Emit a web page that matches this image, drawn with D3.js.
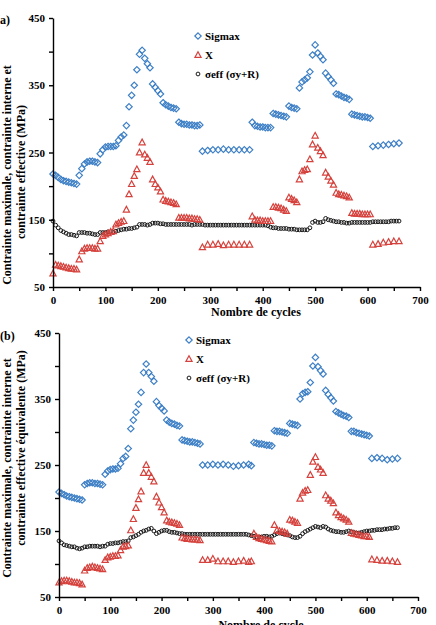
<!DOCTYPE html>
<html lang="fr">
<head>
<meta charset="UTF-8">
<title>Contraintes vs cycles</title>
<script src="https://d3js.org/d3.v7.min.js"></script>
<style>
  body { margin: 0; background: #fff; }
  svg { display: block; font-family: "Liberation Serif", "Times New Roman", serif; font-weight: bold; }
  .axis path, .axis line { stroke: #000; stroke-width: 1.4; }
  .axis text { font-size: 11px; font-weight: bold; fill: #000; font-family: "Liberation Serif", serif; }
  .title { font-size: 12px; font-weight: bold; fill: #000; }
  .legend text { font-size: 11px; font-weight: bold; fill: #000; }
</style>
</head>
<body>
<svg width="436" height="625"></svg>
<script>
// cycle grid: one reading every 5 cycles (null = no reading at that cycle)
const cycles = d3.range(0, 661, 5);
const yTickLabels = [50, 150, 250, 350, 450];
const xTickLabels = [0, 100, 200, 300, 400, 500, 600, 700];

// panel (a)
const sigmaxA = [
  218,216,213,210,208,207,206,205,204,203,
  216,226,233,236,237,237,236,235,248,254,
  258,259,259,259,260,268,273,276,290,318,
  335,350,373,396,402,390,382,376,352,347,
  342,337,324,321,319,317,316,315,295,293,
  292,292,291,291,290,290,291,252,null,253,
  null,254,null,254,null,255,null,254,null,254,
  null,254,null,254,null,254,295,290,289,288,
  288,287,287,287,308,307,306,305,304,303,
  319,317,316,315,346,355,358,361,370,395,
  410,398,393,388,368,363,358,353,337,336,
  334,332,331,329,307,306,305,304,303,303,
  302,301,259,null,260,null,261,null,262,null,
  263,null,264
];
const xA = [
  70,83,82,81,80,79,78,77,77,76,
  91,103,107,108,108,108,107,107,118,126,
  128,130,132,133,143,145,147,148,165,188,
  203,215,225,250,265,247,242,236,210,203,
  198,192,180,178,177,176,175,173,153,153,
  153,153,152,152,151,151,150,109,null,113,
  null,113,null,114,null,112,null,113,null,113,
  null,113,null,113,null,113,155,150,149,149,
  148,148,148,148,169,169,168,167,165,163,
  183,181,179,176,210,222,224,225,240,262,
  275,257,252,246,220,214,208,202,190,188,
  187,186,185,183,160,159,159,159,158,158,
  158,158,113,null,114,null,116,null,117,null,
  118,null,118
];
const seffA = [
  148,142,138,134,132,130,128,128,127,126,
  131,131,131,130,130,129,128,128,131,131,
  131,132,132,131,133,134,135,136,136,137,
  137,138,139,143,143,143,142,143,145,145,
  145,144,144,143,143,143,143,143,143,143,
  143,143,143,142,143,143,143,143,142,142,
  142,142,142,142,142,142,142,142,142,142,
  142,142,142,142,142,142,142,142,142,142,
  142,142,141,139,138,138,137,137,137,137,
  136,136,136,135,135,135,135,135,138,146,
  148,146,146,147,152,150,149,148,147,147,
  146,146,145,145,146,146,146,146,146,146,
  146,146,147,147,147,147,147,147,147,148,
  148,148,148
];

// panel (b)
const sigmaxB = [
  209,207,205,203,202,201,200,199,198,197,
  220,222,223,223,222,222,221,220,236,241,
  243,244,244,245,252,260,263,275,305,318,
  330,342,360,390,403,390,384,377,346,340,
  336,332,318,315,313,312,310,309,288,287,
  286,285,285,284,283,282,250,null,250,null,
  251,null,250,null,251,null,250,null,248,null,
  249,null,250,null,251,249,284,283,282,282,
  281,280,280,279,302,301,301,300,299,298,
  313,312,311,310,350,358,360,361,375,400,
  413,399,393,388,363,357,352,347,331,329,
  327,325,324,322,301,301,299,298,297,296,
  295,294,260,null,261,null,260,null,258,null,
  259,null,260
];
const xB = [
  72,74,75,75,74,73,72,72,71,69,
  90,94,95,96,95,94,93,92,106,110,
  111,112,112,113,121,126,127,128,151,168,
  185,198,210,238,250,238,232,225,202,193,
  186,178,166,164,163,162,161,159,140,139,
  138,138,137,137,137,136,106,null,106,null,
  108,null,104,null,104,null,104,null,103,null,
  104,null,105,null,103,104,146,141,139,138,
  137,136,135,134,159,151,150,149,148,146,
  167,166,164,162,199,208,211,212,235,255,
  262,247,243,238,204,199,196,192,178,174,
  171,169,167,164,147,146,145,144,143,142,
  142,141,107,null,106,null,105,null,105,null,
  104,null,103
];
const seffB = [
  135,132,129,128,127,126,126,124,123,124,
  126,126,127,127,127,127,126,127,127,130,
  131,131,132,132,133,134,134,135,140,141,
  143,145,148,150,151,153,154,150,146,148,
  150,151,151,149,148,148,147,146,146,145,
  145,145,145,145,145,145,145,145,145,145,
  145,145,145,145,145,145,145,145,145,145,
  145,145,145,145,144,143,142,141,141,141,
  142,142,141,142,144,146,147,146,145,144,
  143,141,140,140,142,146,149,151,153,155,
  157,156,155,157,156,153,151,150,149,149,
  148,148,149,150,149,148,147,147,148,149,
  150,150,151,151,152,152,152,153,153,154,
  154,155,155
];

const blue = "#3f80c6", red = "#d5423d", black = "#1a1a1a";
const diamond = "M0,-3.2L3.2,0L0,3.2L-3.2,0Z";
const triangle = "M0,-3.3L3.1,2.4L-3.1,2.4Z";

const svg = d3.select("svg");

function drawPanel(p) {
  const x = d3.scaleLinear().domain([0, 700]).range([p.left, p.right]);
  const y = d3.scaleLinear().domain([50, 450]).range([p.bottom, p.top]);
  const g = svg.append("g");

  const series = [
    { vals: p.seff, kind: "circle", color: black },
    { vals: p.x, kind: "tri", color: red },
    { vals: p.sigmax, kind: "dia", color: blue }
  ];

  series.forEach(s => {
    const pts = cycles.map((c, i) => [c, s.vals[i]]).filter(d => d[1] != null);
    if (s.kind === "circle") {
      g.selectAll(null).data(pts).enter().append("circle")
        .attr("cx", d => x(d[0])).attr("cy", d => y(d[1]))
        .attr("r", 1.9).attr("fill", "none")
        .attr("stroke", s.color).attr("stroke-width", 1);
    } else {
      g.selectAll(null).data(pts).enter().append("path")
        .attr("d", s.kind === "dia" ? diamond : triangle)
        .attr("transform", d => `translate(${x(d[0])},${y(d[1])})`)
        .attr("fill", "none").attr("stroke", s.color).attr("stroke-width", 1.2);
    }
  });

  g.append("g").attr("class", "axis")
    .attr("transform", `translate(${p.left},0)`)
    .call(d3.axisLeft(y).tickValues(d3.range(50, 451, 50)).tickSize(4).tickSizeOuter(0).tickPadding(4)
      .tickFormat(d => yTickLabels.includes(d) ? d : ""));

  g.append("g").attr("class", "axis")
    .attr("transform", `translate(0,${p.bottom})`)
    .call(d3.axisBottom(x).tickValues(d3.range(0, 701, 50)).tickSize(4).tickSizeOuter(0).tickPadding(5)
      .tickFormat(d => xTickLabels.includes(d) ? d : ""));

  g.append("text").attr("class", "title")
    .attr("x", p.xTitleX).attr("y", p.xTitleY).attr("text-anchor", "middle")
    .text(p.xTitle);

  p.yTitle.forEach((t, i) => {
    g.append("text").attr("class", "title")
      .attr("transform", `translate(${p.yTitleX[i]},${p.yTitleC[i]}) rotate(-90)`)
      .attr("text-anchor", "middle").text(t);
  });

  g.append("text").attr("class", "title").attr("x", p.tagX).attr("y", p.tagY).text(p.tag);

  const leg = g.append("g").attr("class", "legend");
  const items = [
    { label: "Sigmax", kind: "dia", color: blue },
    { label: "X", kind: "tri", color: red },
    { label: "\u03c3eff (\u03c3y+R)", kind: "circle", color: black }
  ];
  items.forEach((it, i) => {
    const cy = p.legY + i * 19;
    if (it.kind === "circle") {
      leg.append("circle").attr("cx", p.legX).attr("cy", cy).attr("r", 1.9)
        .attr("fill", "none").attr("stroke", it.color).attr("stroke-width", 1);
    } else {
      leg.append("path").attr("d", it.kind === "dia" ? diamond : triangle)
        .attr("transform", `translate(${p.legX},${cy})`)
        .attr("fill", "none").attr("stroke", it.color).attr("stroke-width", 1.2);
    }
    leg.append("text").attr("x", p.legX + 7).attr("y", cy + 4).text(it.label);
  });
}

drawPanel({
  left: 53, right: 420, top: 18, bottom: 287,
  sigmax: sigmaxA, x: xA, seff: seffA,
  xTitle: "Nombre de cycles", xTitleX: 256, xTitleY: 316,
  yTitle: ["Contrainte maximale, contrainte interne et", "contrainte effective (MPa)"],
  yTitleX: [11, 25], yTitleC: [175, 172],
  tag: "(a)", tagX: -4, tagY: 24,
  legX: 198, legY: 36
});

drawPanel({
  left: 59, right: 418, top: 333, bottom: 597,
  sigmax: sigmaxB, x: xB, seff: seffB,
  xTitle: "Nombre de cycle", xTitleX: 261, xTitleY: 629,
  yTitle: ["Contrainte maximale, contrainte interne et", "contrainte effective \u00e9quivalente (MPa)"],
  yTitleX: [11, 25], yTitleC: [468, 448],
  tag: "(b)", tagX: 0, tagY: 340,
  legX: 189, legY: 340
});
</script>
</body>
</html>
